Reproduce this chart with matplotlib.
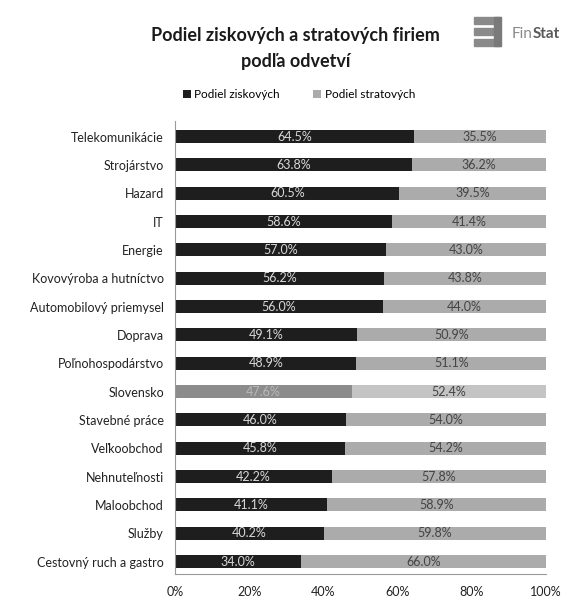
import matplotlib.pyplot as plt
import numpy as np

plt.rcParams['font.family'] = ['Lato', 'DejaVu Sans']

categories = ['Telekomunikácie', 'Strojárstvo', 'Hazard', 'IT', 'Energie',
              'Kovovýroba a hutníctvo', 'Automobilový priemysel', 'Doprava',
              'Poľnohospodárstvo', 'Slovensko', 'Stavebné práce', 'Veľkoobchod',
              'Nehnuteľnosti', 'Maloobchod', 'Služby', 'Cestovný ruch a gastro']
ziskove = [64.5, 63.8, 60.5, 58.6, 57.0, 56.2, 56.0, 49.1, 48.9, 47.6,
           46.0, 45.8, 42.2, 41.1, 40.2, 34.0]
stratove = [35.5, 36.2, 39.5, 41.4, 43.0, 43.8, 44.0, 50.9, 51.1, 52.4,
            54.0, 54.2, 57.8, 58.9, 59.8, 66.0]
highlight = 'Slovensko'

W, H = 578, 602
fig = plt.figure(figsize=(W / 100, H / 100), dpi=100)
ax = fig.add_axes([175 / W, 1 - 574 / H, 371 / W, 453 / H])

y = np.arange(len(categories))
c_zisk = ['#8c8c8c' if c == highlight else '#1e1e1e' for c in categories]
c_strat = ['#c4c4c4' if c == highlight else '#ababab' for c in categories]
z = np.array(ziskove) / 100
s = np.array(stratove) / 100
ax.barh(y, z, height=0.46, color=c_zisk, label='Podiel ziskových')
ax.barh(y, s, left=z, height=0.46, color=c_strat, label='Podiel stratových')

for i in range(len(categories)):
    tc = '#b8b8b8' if categories[i] == highlight else '#d8d8d8'
    ax.text(z[i] / 2, y[i], f'{ziskove[i]:.1f}%', ha='center', va='center',
            fontsize=9, color=tc)
    ax.text(z[i] + s[i] / 2, y[i], f'{stratove[i]:.1f}%', ha='center',
            va='center', fontsize=9, color='#444444')

ax.set_ylim(len(categories) - 1 + 0.44, -0.55)
ax.set_xlim(0, 1)
ax.set_yticks(y)
ax.set_yticklabels(categories, fontsize=9, color='#222222')
ax.set_xticks(np.linspace(0, 1, 6))
ax.set_xticklabels([f'{int(v)}%' for v in np.linspace(0, 100, 6)],
                   fontsize=9, color='#222222')
ax.tick_params(axis='both', length=0)
ax.tick_params(axis='x', pad=9)
ax.tick_params(axis='y', pad=8)
for sp in ['top', 'right']:
    ax.spines[sp].set_visible(False)
for sp in ['left', 'bottom']:
    ax.spines[sp].set_color('#9a9a9a')
    ax.spines[sp].set_linewidth(0.8)

# title
fig.text(295 / W, 1 - 36 / H, 'Podiel ziskových a stratových firiem',
         ha='center', va='center', fontsize=13, fontweight='bold', color='#1a1a1a')
fig.text(296 / W, 1 - 61 / H, 'podľa odvetví',
         ha='center', va='center', fontsize=13, fontweight='bold', color='#1a1a1a')

# legend
fig.legend(loc='center', bbox_to_anchor=(299 / W, 1 - 95 / H), ncol=2,
           frameon=False, fontsize=8.5, handlelength=0.7, handleheight=0.7,
           columnspacing=2.8, handletextpad=0.3)

# FinStat logo
for yy in [17, 28, 39]:
    fig.patches.append(plt.Rectangle((474 / W, 1 - (yy + 7) / H), 26 / W, 7 / H,
                                     transform=fig.transFigure, color='#8a8a8a'))
fig.patches.append(plt.Rectangle((494 / W, 1 - 46 / H), 7 / W, 29 / H,
                                 transform=fig.transFigure, color='#7a7a7a'))
fig.text(512 / W, 1 - 34 / H, 'Fin', ha='left', va='center',
         fontsize=11, color='#8a8a8a')
fig.text(533 / W, 1 - 34 / H, 'Stat', ha='left', va='center',
         fontsize=11, fontweight='bold', color='#5a5a5a')

fig.savefig('out.png', dpi=100)
